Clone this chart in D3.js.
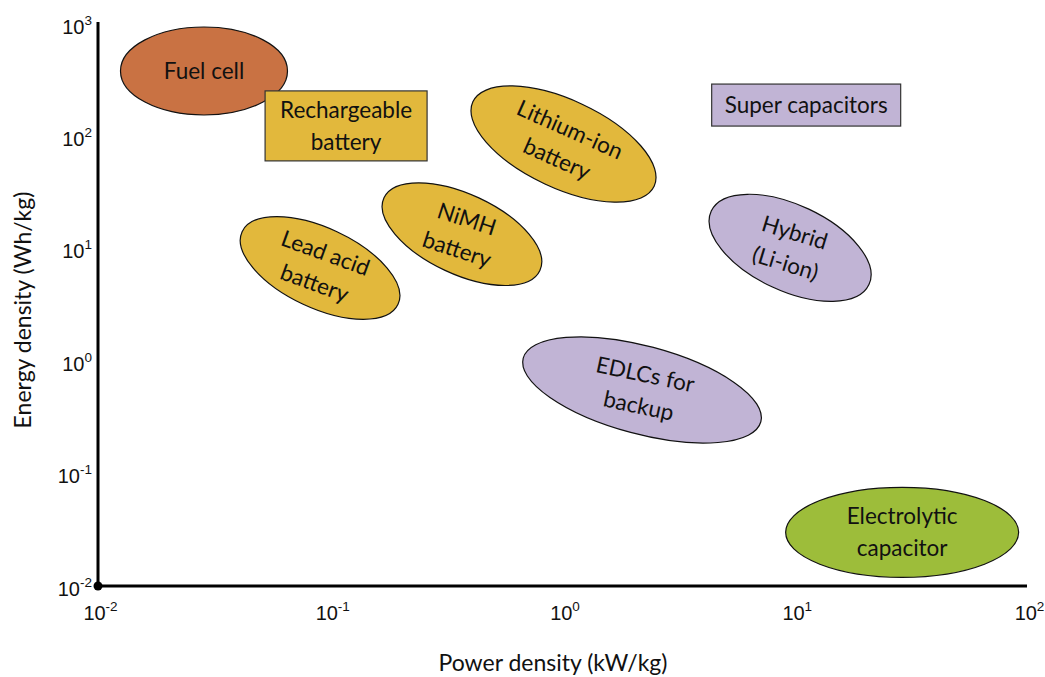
<!DOCTYPE html>
<html>
<head>
<meta charset="utf-8">
<script src="https://cdn.jsdelivr.net/npm/d3@7"></script>
<style>
  html, body { margin: 0; padding: 0; background: #ffffff; }
  svg { display: block; font-family: Lato, "Open Sans", sans-serif; }
</style>
</head>
<body>
<svg id="chart" width="1045" height="677"></svg>
<script>
// Ragone plot: energy density vs power density of storage technologies.

// Technology names (each entry is a list of label lines)
const technologies = [
  ["Fuel cell"],
  ["Rechargeable", "battery"],
  ["Super capacitors"],
  ["Lithium-ion", "battery"],
  ["Lead acid", "battery"],
  ["NiMH", "battery"],
  ["Hybrid", "(Li-ion)"],
  ["EDLCs for", "backup"],
  ["Electrolytic", "capacitor"]
];
// Typical power density at the centre of each region (kW/kg)
const powerDensity = [0.0286, 0.117, 11.2, 1.01, 0.0904, 0.369, 9.55, 2.2, 29];
// Typical energy density at the centre of each region (Wh/kg)
const energyDensity = [382, 124, 190, 85.5, 6.75, 13.5, 10.2, 0.555, 0.030];
// Axis tick values (decades)
const xTicks = [1e-2, 1e-1, 1e0, 1e1, 1e2];
const yTicks = [1e-2, 1e-1, 1e0, 1e1, 1e2, 1e3];

// Shape, size, rotation and fill of each region's marker
const shapes = [
  { kind: "ellipse", rx: 83.5, ry: 44, angle: 0,  textAngle: 0,  fill: "#C97243" },
  { kind: "rect",    w: 162,  h: 70,  angle: 0,  textAngle: 0,  fill: "#E2B83C" },
  { kind: "rect",    w: 189,  h: 42,  angle: 0,  textAngle: 0,  fill: "#C1B4D5" },
  { kind: "ellipse", rx: 100, ry: 44, angle: 25, textAngle: 24, fill: "#E2B83C" },
  { kind: "ellipse", rx: 86,  ry: 40, angle: 25, textAngle: 20, fill: "#E2B83C" },
  { kind: "ellipse", rx: 86,  ry: 40, angle: 25, textAngle: 18, fill: "#E2B83C" },
  { kind: "ellipse", rx: 87,  ry: 43, angle: 25, textAngle: 17, fill: "#C1B4D5" },
  { kind: "ellipse", rx: 123, ry: 44, angle: 15, textAngle: 12, fill: "#C1B4D5" },
  { kind: "ellipse", rx: 116.5, ry: 45, angle: 0, textAngle: 0, fill: "#9DBD3A" }
];

const svg = d3.select("#chart");

const x = d3.scaleLog().domain([1e-2, 1e2]).range([98, 1027]);
const y = d3.scaleLog().domain([1e-2, 1e3]).range([586, 24]);

// "10" with the decade exponent raised
function powerLabel(sel) {
  sel.each(function(d) {
    const t = d3.select(this);
    const e = Math.round(Math.log10(d));
    t.text(null);
    t.append("tspan").attr("font-size", 20).text("10");
    t.append("tspan").attr("font-size", 13.5).attr("dy", -9).text(String(e));
  });
}

// x axis
const gx = svg.append("g")
  .attr("transform", `translate(0,${y(1e-2)})`)
  .call(d3.axisBottom(x).tickValues(xTicks).tickSize(0).tickPadding(0).tickFormat(() => ""));
gx.select(".domain").attr("stroke", "#000").attr("stroke-width", 3).attr("d", `M${x(1e-2)},0H${x(1e2)}`);
gx.selectAll(".tick text").remove();
gx.selectAll(".tick").append("text")
  .attr("text-anchor", "middle")
  .attr("fill", "#111")
  .attr("y", 34)
  .attr("x", 2)
  .call(powerLabel);

// y axis
const gy = svg.append("g")
  .attr("transform", `translate(${x(1e-2)},0)`)
  .call(d3.axisLeft(y).tickValues(yTicks).tickSize(0).tickPadding(0).tickFormat(() => ""));
gy.select(".domain").attr("stroke", "#000").attr("stroke-width", 3).attr("d", `M0,${y(1e-2)}V${y(1e3) - 2}`);
gy.selectAll(".tick text").remove();
gy.selectAll(".tick").append("text")
  .attr("text-anchor", "end")
  .attr("fill", "#111")
  .attr("x", -6)
  .attr("y", 9)
  .call(powerLabel);

// origin dot
svg.append("circle")
  .attr("cx", x(1e-2)).attr("cy", y(1e-2)).attr("r", 4.5).attr("fill", "#000");

// axis titles
svg.append("text")
  .attr("x", 553).attr("y", 671)
  .attr("text-anchor", "middle")
  .attr("font-size", 23).attr("fill", "#111")
  .text("Power density (kW/kg)");

svg.append("text")
  .attr("transform", "translate(31,310) rotate(-90)")
  .attr("text-anchor", "middle")
  .attr("font-size", 23).attr("fill", "#111")
  .text("Energy density (Wh/kg)");

// technology regions
const regions = technologies.map((lines, i) => ({
  lines, p: powerDensity[i], e: energyDensity[i], s: shapes[i]
}));

const g = svg.append("g");
const lineGap = 32;

regions.forEach(r => {
  const cx = x(r.p), cy = y(r.e);
  const grp = g.append("g").attr("transform", `translate(${cx},${cy})`);
  if (r.s.kind === "ellipse") {
    grp.append("ellipse")
      .attr("rx", r.s.rx).attr("ry", r.s.ry)
      .attr("transform", `rotate(${r.s.angle})`)
      .attr("fill", r.s.fill).attr("stroke", "#111").attr("stroke-width", 1.2);
  } else {
    grp.append("rect")
      .attr("x", -r.s.w / 2).attr("y", -r.s.h / 2)
      .attr("width", r.s.w).attr("height", r.s.h)
      .attr("fill", r.s.fill).attr("stroke", "#333").attr("stroke-width", 1.2);
  }
  const txt = grp.append("text")
    .attr("transform", `rotate(${r.s.textAngle})`)
    .attr("text-anchor", "middle")
    .attr("font-size", 22.5)
    .attr("fill", "#111");
  const n = r.lines.length;
  r.lines.forEach((ln, k) => {
    txt.append("tspan")
      .attr("x", 0)
      .attr("y", (k - (n - 1) / 2) * lineGap + 8)
      .text(ln);
  });
});
</script>
</body>
</html>
